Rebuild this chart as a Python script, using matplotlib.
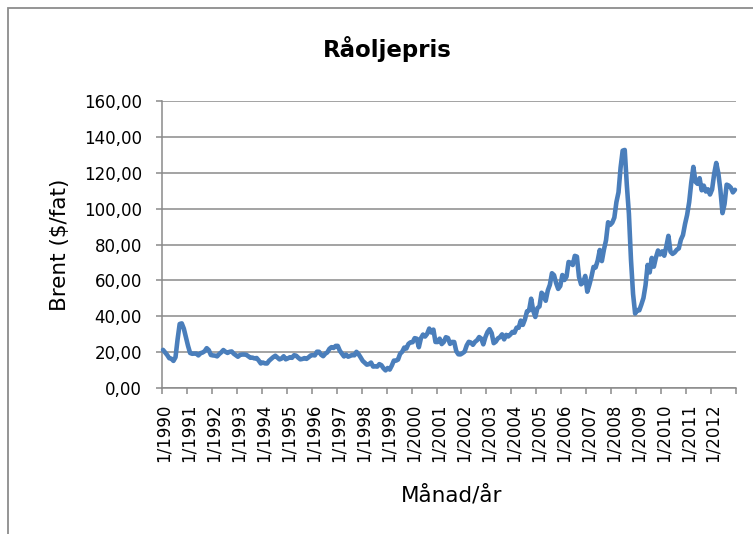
import matplotlib
matplotlib.use("Agg")
import matplotlib.pyplot as plt
from matplotlib.patches import Rectangle
import numpy as np

# Monthly Brent price ($/barrel), Jan 1990 - Dec 2012
brent_1990 = [21.25, 19.81, 18.39, 16.61, 16.35, 15.10, 17.17, 27.17, 35.69, 36.02, 33.07, 28.27]
brent_1991 = [23.57, 19.54, 19.08, 19.18, 19.19, 18.17, 19.40, 19.77, 20.50, 22.21, 21.11, 18.41]
brent_1992 = [18.16, 18.05, 17.63, 18.92, 19.89, 21.16, 20.23, 19.56, 20.19, 20.37, 19.11, 18.24]
brent_1993 = [17.44, 18.43, 18.65, 18.66, 18.53, 17.68, 16.87, 16.94, 16.48, 16.72, 15.34, 13.69]
brent_1994 = [14.20, 13.72, 13.67, 15.21, 16.25, 17.23, 17.98, 16.94, 15.95, 16.42, 17.70, 15.99]
brent_1995 = [16.49, 17.13, 16.81, 18.26, 18.01, 16.90, 15.98, 16.21, 16.66, 16.24, 17.12, 18.15]
brent_1996 = [18.34, 18.17, 20.23, 20.19, 18.57, 17.74, 19.11, 19.86, 21.84, 22.77, 22.31, 23.46]
brent_1997 = [23.49, 20.78, 19.16, 17.59, 18.63, 17.44, 17.91, 18.48, 18.20, 20.17, 18.89, 17.07]
brent_1998 = [15.13, 14.11, 13.01, 13.29, 14.18, 11.96, 12.05, 11.93, 13.30, 12.71, 10.99, 9.82]
brent_1999 = [11.13, 10.27, 12.51, 15.29, 15.23, 15.86, 19.08, 20.22, 22.54, 22.00, 24.58, 25.47]
brent_2000 = [25.51, 27.78, 27.49, 22.76, 27.74, 29.80, 28.68, 30.20, 33.14, 30.96, 32.55, 25.66]
brent_2001 = [25.62, 27.50, 24.50, 25.66, 28.31, 27.85, 24.61, 25.68, 25.62, 20.54, 18.80, 18.71]
brent_2002 = [19.42, 20.28, 23.70, 25.73, 25.35, 24.08, 25.74, 26.65, 28.40, 27.54, 24.34, 28.33]
brent_2003 = [31.18, 32.77, 30.61, 25.00, 25.86, 27.65, 28.35, 29.89, 27.11, 29.61, 28.75, 29.81]
brent_2004 = [31.28, 30.86, 33.63, 33.59, 37.57, 35.18, 38.22, 42.74, 43.20, 49.78, 43.11, 39.60]
brent_2005 = [44.51, 45.48, 53.10, 51.88, 48.65, 54.35, 57.52, 63.98, 62.91, 58.54, 55.24, 56.86]
brent_2006 = [62.99, 60.21, 62.06, 70.26, 69.78, 68.56, 73.67, 73.23, 61.96, 57.81, 58.76, 62.47]
brent_2007 = [53.68, 57.56, 62.05, 67.49, 67.21, 71.05, 76.93, 70.76, 77.17, 82.34, 92.41, 90.93]
brent_2008 = [92.18, 94.99, 103.64, 109.07, 122.80, 132.32, 132.72, 113.24, 97.23, 71.58, 52.45, 41.50]
brent_2009 = [43.44, 43.32, 46.54, 50.18, 57.30, 68.61, 64.44, 72.51, 67.65, 72.77, 76.66, 74.46]
brent_2010 = [76.17, 73.75, 78.83, 84.82, 75.95, 74.76, 75.58, 77.04, 77.84, 82.67, 85.28, 91.45]
brent_2011 = [96.52, 103.72, 114.64, 123.26, 114.99, 113.83, 116.97, 110.22, 112.83, 109.55, 110.77, 107.87]
brent_2012 = [110.69, 119.33, 125.45, 119.75, 110.34, 97.50, 102.62, 113.36, 112.86, 111.71, 109.06, 110.50]

years = list(range(1990, 2013))
tick_labels = [f"1/{y}" for y in years]
yticks = [0, 20, 40, 60, 80, 100, 120, 140, 160]

brent = np.array(brent_1990 + brent_1991 + brent_1992 + brent_1993 + brent_1994 +
                 brent_1995 + brent_1996 + brent_1997 + brent_1998 + brent_1999 +
                 brent_2000 + brent_2001 + brent_2002 + brent_2003 + brent_2004 +
                 brent_2005 + brent_2006 + brent_2007 + brent_2008 + brent_2009 +
                 brent_2010 + brent_2011 + brent_2012)

plt.rcParams['font.family'] = ['DejaVu Sans']

W, H = 753, 534
fig = plt.figure(figsize=(W / 100, H / 100), dpi=100)
fig.patch.set_facecolor('white')

# chart-area border (cropped at right and bottom)
fig.patches.append(Rectangle((8 / W, -0.05), 1.2, (H - 8) / H + 0.05,
                             transform=fig.transFigure, fill=False,
                             edgecolor='#8c8c8c', linewidth=1.3, clip_on=False))

left, right, top, bottom = 162, 736, 101, 388
ax = fig.add_axes([left / W, (H - bottom) / H, (right - left) / W, (bottom - top) / H])

grid_c = '#8a8a8a'
n = len(brent)
x = np.arange(n) + 0.5
ax.plot(x, brent, color='#4a7ebb', linewidth=3.3, solid_joinstyle='round',
        solid_capstyle='round', zorder=3, clip_on=False)

ax.set_xlim(0, n)
ax.set_ylim(0, 160)
ax.set_yticks(yticks)
ax.set_yticklabels([f"{v:.2f}".replace('.', ',') for v in yticks], fontsize=12)
ax.yaxis.grid(True, color=grid_c, linewidth=1.1)
ax.set_axisbelow(True)

major_pos = np.arange(0, n + 1, 12)
ax.set_xticks(major_pos)
ax.set_xticklabels([])
ax.tick_params(axis='x', which='major', direction='out', length=4, width=1.1,
               color=grid_c, labelbottom=False)
ax.tick_params(axis='y', direction='out', length=4.5, width=1.1, color=grid_c, pad=10)

# vertical category labels, x from the data scale
to_fig = ax.transData + fig.transFigure.inverted()
for pos, lbl in zip(major_pos[:-1], tick_labels):
    fx, _ = to_fig.transform((pos + 1.0, 0))
    fig.text(fx, 1 - 433 / H, lbl, rotation=90, ha='center', va='center',
             rotation_mode='anchor', fontsize=12)

for s in ['top', 'right']:
    ax.spines[s].set_visible(False)
for s in ['left', 'bottom']:
    ax.spines[s].set_color(grid_c)
    ax.spines[s].set_linewidth(1.1)

fig.text(387 / W, 1 - 49 / H, "Råoljepris", ha='center', va='center',
         fontsize=16.5, fontweight='bold')
fig.text(60 / W, 1 - 245 / H, "Brent ($/fat)", ha='center', va='center',
         rotation=90, fontsize=15.5)
fig.text(452 / W, 1 - 495 / H, "Månad/år", ha='center', va='center', fontsize=15.5)

fig.savefig("out.png", dpi=100, facecolor='white')
